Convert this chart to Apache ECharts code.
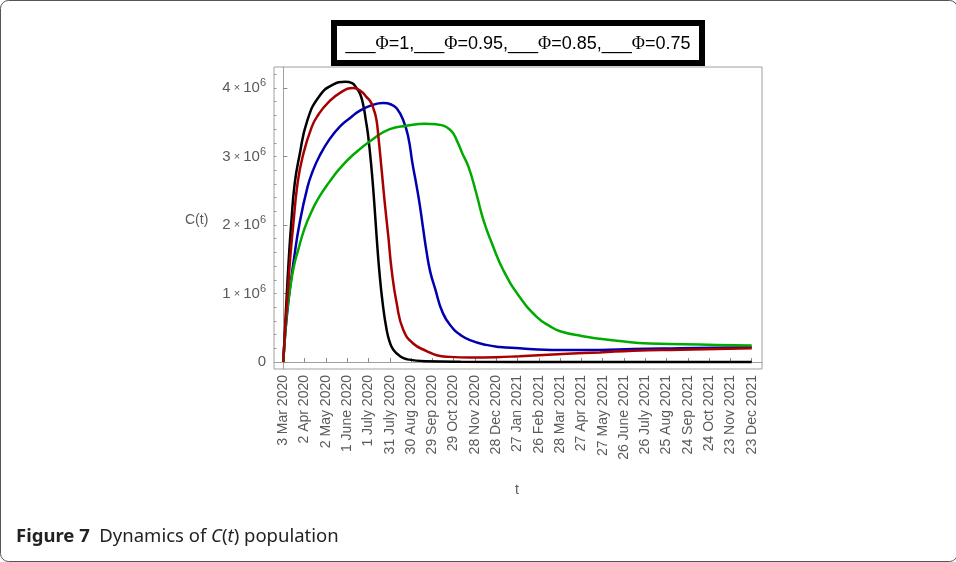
<!DOCTYPE html>
<html>
<head>
<meta charset="utf-8">
<script src="https://cdn.jsdelivr.net/npm/echarts@6/dist/echarts.min.js"></script>
<style>
  html, body { margin: 0; padding: 0; background: #fff; }
  #chart { width: 956px; height: 562px; }
</style>
</head>
<body>
<div id="chart"></div>
<script>
// x tick labels, one every 30 days starting 3 Mar 2020
const tickLabels = [
  "3 Mar 2020", "2 Apr 2020", "2 May 2020", "1 June 2020", "1 July 2020",
  "31 July 2020", "30 Aug 2020", "29 Sep 2020", "29 Oct 2020", "28 Nov 2020",
  "28 Dec 2020", "27 Jan 2021", "26 Feb 2021", "28 Mar 2021", "27 Apr 2021",
  "27 May 2021", "26 June 2021", "26 July 2021", "25 Aug 2021", "24 Sep 2021",
  "24 Oct 2021", "23 Nov 2021", "23 Dec 2021",
];
const tickDays = tickLabels.map((_, i) => i * 30);
const yMajor = [0, 1, 2, 3, 4];

// [day, C in units of 10^6]
const phi100 = [
  [0, 0], [2.5, 0.5], [5, 1.0], [8, 1.55], [11, 2.0], [16, 2.6], [22.5, 3.0],
  [34, 3.53], [50.7, 3.88], [70, 4.05], [87, 4.09], [97, 4.07], [103, 4.0],
  [108, 3.92], [112.7, 3.75], [116, 3.55], [119.7, 3.29], [124.5, 2.8],
  [128.2, 2.32], [131.5, 1.83], [135.2, 1.34], [140, 0.86], [145.6, 0.47],
  [150, 0.29], [155, 0.18], [165, 0.08], [174, 0.04], [200, 0.01], [250, 0.003],
  [400, 0], [660, 0],
];
const phi095 = [
  [0, 0], [2.5, 0.45], [6.2, 1.0], [10, 1.55], [14, 2.0], [20, 2.6], [27.3, 3.0],
  [40, 3.43], [50, 3.62], [62.5, 3.78], [80, 3.93], [98.6, 4.0], [110, 3.95],
  [117, 3.87], [123, 3.8], [127, 3.7], [131, 3.55], [134, 3.29], [138.6, 2.8],
  [143, 2.32], [148, 1.83], [152.7, 1.34], [159.7, 0.86], [169, 0.47],
  [183, 0.27], [202, 0.16], [216, 0.1], [235, 0.075], [263, 0.065], [300, 0.07],
  [333, 0.085], [400, 0.12], [446, 0.14], [493, 0.165], [560, 0.18], [660, 0.2],
];
const phi085 = [
  [0, 0], [3, 0.45], [8.5, 1.0], [15, 1.5], [22.5, 2.0], [34, 2.55], [42, 2.8],
  [50.7, 3.0], [65, 3.25], [80, 3.44], [95, 3.57], [108, 3.67], [125, 3.75],
  [141, 3.78], [152, 3.76], [160, 3.7], [169, 3.53], [176, 3.29], [182, 2.9],
  [188, 2.56], [192.5, 2.28], [197, 1.95], [202, 1.6], [207, 1.32],
  [213.7, 1.08], [225, 0.71], [239, 0.49], [249, 0.4], [263, 0.32], [286, 0.25],
  [305, 0.22], [333, 0.2], [352, 0.185], [399, 0.175], [446, 0.175],
  [493, 0.19], [560, 0.2], [660, 0.215],
];
const phi075 = [
  [0, 0], [3, 0.45], [6, 0.8], [10, 1.1], [15, 1.4], [20, 1.6], [30, 1.95],
  [40, 2.2], [50, 2.4], [65, 2.63], [80, 2.83], [100, 3.04], [127, 3.26],
  [150, 3.4], [174, 3.45], [200, 3.48], [215, 3.47], [235, 3.39], [246, 3.2],
  [252, 3.05], [261, 2.85], [272, 2.46], [282, 2.07], [294, 1.73], [310, 1.34],
  [333, 0.95], [357, 0.66], [376, 0.52], [390, 0.45], [420, 0.38], [446, 0.34],
  [470, 0.31], [516, 0.27], [563, 0.26], [610, 0.25], [660, 0.24],
];

const yMinor = [];
for (let v = 0.2; v < 4.3; v += 0.2) yMinor.push(+v.toFixed(1));

const labelColor = "#5a5a5a";
const frameColor = "#a0a0a0";

function lineSeries(name, data, color) {
  return {
    name: name,
    type: "line",
    data: data,
    showSymbol: false,
    smooth: 0.5,
    lineStyle: { color: color, width: 2.5 },
    itemStyle: { color: color },
    z: 3,
  };
}

const chart = echarts.init(document.getElementById("chart"));
const option = {
  animation: false,
  grid: {
    left: 274, right: 194, top: 67, bottom: 193,
    show: true, borderColor: frameColor, borderWidth: 1,
  },
  xAxis: {
    type: "value",
    min: -13.1,
    max: 674.5,
    axisLine: { show: true, lineStyle: { color: frameColor } },
    splitLine: { show: false },
    axisTick: {
      show: true, inside: true, length: 4,
      customValues: tickDays,
      lineStyle: { color: "#888" },
    },
    axisLabel: {
      customValues: tickDays,
      rotate: 90,
      margin: 6,
      color: labelColor,
      fontFamily: "Liberation Sans",
      fontSize: 14,
      formatter: (v) => tickLabels[Math.round(v / 30)],
    },
  },
  yAxis: [
    {
      type: "value",
      min: -0.102,
      max: 4.307,
      axisLine: { show: true, lineStyle: { color: frameColor } },
      splitLine: { show: false },
      axisTick: {
        show: true, inside: true, length: 4,
        customValues: yMajor,
        lineStyle: { color: "#888" },
      },
      axisLabel: {
        customValues: yMajor,
        margin: 8,
        color: labelColor,
        formatter: (v) =>
          v === 0 ? "{n|0}" : `{n|${v}}{x| × }{n|10}{s|6}`,
        rich: {
          n: { fontSize: 15, fontFamily: "Liberation Sans", color: labelColor },
          x: { fontSize: 11, fontFamily: "Liberation Sans", color: labelColor },
          s: {
            fontSize: 11, fontFamily: "Liberation Sans", color: labelColor,
            padding: [0, 0, 10, 0],
          },
        },
      },
    },
    {
      type: "value",
      min: -0.102,
      max: 4.307,
      position: "left",
      axisLine: { show: false },
      splitLine: { show: false },
      axisLabel: { show: false },
      axisTick: {
        show: true, inside: true, length: 2.5,
        customValues: yMinor,
        lineStyle: { color: "#999" },
      },
    },
  ],
  series: [
    lineSeries("Φ=1", phi100, "#000000"),
    lineSeries("Φ=0.85", phi085, "#0000b0"),
    lineSeries("Φ=0.75", phi075, "#00aa00"),
    lineSeries("Φ=0.95", phi095, "#a80000"),
  ],
  graphic: [
    {
      type: "rect",
      shape: { x: 0.5, y: 0.5, width: 957, height: 561, r: 8 },
      style: { fill: "none", stroke: "#555", lineWidth: 1 },
      silent: true,
    },
    {
      type: "rect",
      shape: { x: 334, y: 23, width: 368, height: 40 },
      style: { fill: "#fff", stroke: "#000", lineWidth: 6 },
      z: 10,
    },
    {
      type: "text",
      x: 518,
      y: 44,
      z: 11,
      style: {
        text:
          "{k|___}{p|Φ}=1,{r|___}{p|Φ}=0.95,{b|___}{p|Φ}=0.85,{g|___}{p|Φ}=0.75",
        align: "center",
        verticalAlign: "middle",
        fontFamily: "Liberation Sans",
        fontSize: 18,
        fill: "#000",
        rich: {
          k: { fontSize: 18, fontFamily: "Liberation Sans", color: "#000" },
          r: { fontSize: 18, fontFamily: "Liberation Sans", color: "#e00000" },
          b: { fontSize: 18, fontFamily: "Liberation Sans", color: "#1515e0" },
          g: { fontSize: 18, fontFamily: "Liberation Sans", color: "#20d020" },
          p: { fontSize: 18, fontFamily: "Liberation Serif", color: "#000" },
        },
      },
    },
    {
      type: "text",
      x: 185,
      y: 220,
      style: {
        text: "C(t)",
        verticalAlign: "middle",
        fontFamily: "Liberation Sans",
        fontSize: 14,
        fill: labelColor,
      },
    },
    {
      type: "text",
      x: 517,
      y: 490,
      style: {
        text: "t",
        align: "center",
        verticalAlign: "middle",
        fontFamily: "Liberation Sans",
        fontSize: 14,
        fill: labelColor,
      },
    },
    {
      type: "text",
      x: 16,
      y: 537,
      style: {
        text: "{b|Figure 7}  Dynamics of {i|C}({i|t}) population",
        verticalAlign: "middle",
        fontFamily: "Noto Sans",
        fontSize: 18.5,
        fill: "#222",
        rich: {
          b: { fontFamily: "Noto Sans", fontSize: 18.5, fontWeight: "bold", color: "#222" },
          i: { fontFamily: "Noto Sans", fontSize: 18.5, fontStyle: "italic", color: "#222" },
        },
      },
    },
  ],
};
chart.setOption(option);
</script>
</body>
</html>
